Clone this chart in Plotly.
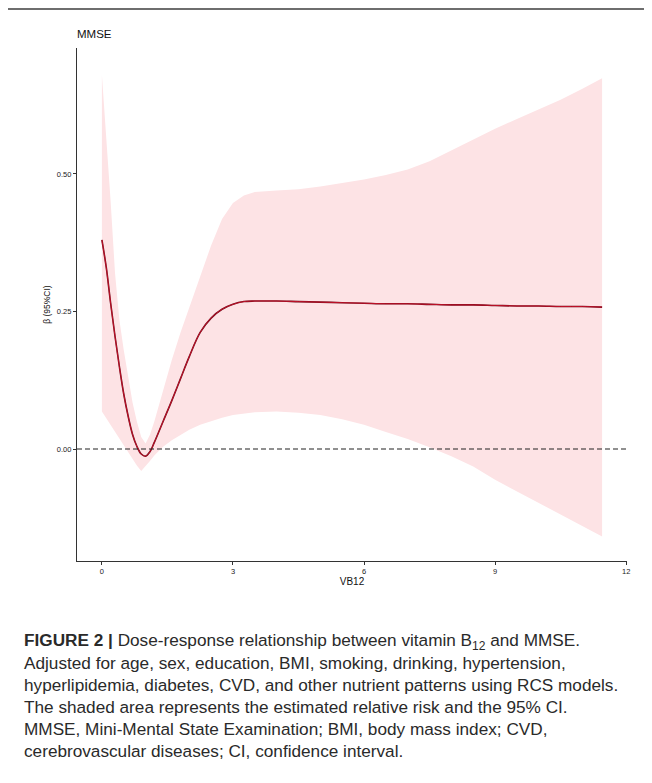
import plotly.graph_objects as go

# ---- data ----
vb12 = [0, 0.1, 0.2, 0.3, 0.4, 0.5, 0.6, 0.7, 0.8, 0.9, 1.0, 1.1, 1.2, 1.4, 1.6, 1.8,
        2.0, 2.25, 2.5, 2.75, 3.0, 3.25, 3.5, 4.0, 4.5, 5.0, 5.5, 6.0, 6.5, 7.0, 7.5,
        8.0, 8.5, 9.0, 9.5, 10.0, 10.5, 11.0, 11.45]
beta = [0.38, 0.33, 0.265, 0.205, 0.15, 0.10, 0.06, 0.027, 0.005, -0.009, -0.013, -0.005,
        0.012, 0.05, 0.088, 0.128, 0.168, 0.212, 0.238, 0.254, 0.263, 0.268, 0.269, 0.269,
        0.268, 0.267, 0.266, 0.265, 0.264, 0.264, 0.263, 0.262, 0.262, 0.261, 0.260,
        0.260, 0.259, 0.259, 0.258]
upper = [0.68, 0.57, 0.45, 0.32, 0.235, 0.18, 0.13, 0.085, 0.05, 0.022, 0.01, 0.026,
         0.05, 0.108, 0.162, 0.212, 0.258, 0.312, 0.37, 0.418, 0.447, 0.461, 0.467, 0.470,
         0.472, 0.477, 0.483, 0.490, 0.498, 0.508, 0.523, 0.543, 0.562, 0.582, 0.60,
         0.617, 0.635, 0.655, 0.674]
lower = [0.068, 0.056, 0.043, 0.031, 0.019, 0.007, -0.006, -0.018, -0.030, -0.040, -0.032,
         -0.022, -0.012, 0.004, 0.016, 0.026, 0.035, 0.044, 0.051, 0.057, 0.062, 0.065,
         0.067, 0.068, 0.066, 0.062, 0.054, 0.044, 0.031, 0.018, 0.003, -0.013, -0.032,
         -0.056, -0.077, -0.099, -0.12, -0.14, -0.159]

x_ticks = [0, 3, 6, 9, 12]
y_ticks = [0.0, 0.25, 0.50]
y_ticklabels = ["0.00", "0.25", "0.50"]

caption_lines = [
    "<b>FIGURE 2 |</b> Dose-response relationship between vitamin B<sub>12</sub> and MMSE.",
    "Adjusted for age, sex, education, BMI, smoking, drinking, hypertension,",
    "hyperlipidemia, diabetes, CVD, and other nutrient patterns using RCS models.",
    "The shaded area represents the estimated relative risk and the 95% CI.",
    "MMSE, Mini-Mental State Examination; BMI, body mass index; CVD,",
    "cerebrovascular diseases; CI, confidence interval.",
]

# ---- layout geometry (figure pixels; the page body adds an 8px offset) ----
OFF = 8
W, H = 652 - OFF, 783 - OFF
L, R, T, B = 77 - OFF, 25, 48 - OFF, 222
PW, PH = W - L - R, H - T - B


def px(xr):  # reference-pixel x -> paper
    return (xr - OFF - L) / PW


def py(yr):  # reference-pixel y -> paper
    return (H - B - (yr - OFF)) / PH


FONT = "Liberation Sans, Arial, sans-serif"

fig = go.Figure()

fig.add_trace(go.Scatter(
    x=vb12 + vb12[::-1], y=upper + lower[::-1],
    fill="toself", fillcolor="#fde3e5", line=dict(width=0),
    mode="lines", hoverinfo="skip", showlegend=False))

fig.add_trace(go.Scatter(
    x=vb12, y=beta, mode="lines",
    line=dict(color="#6b0a1a", width=1.6, shape="spline"),
    showlegend=False))
fig.add_trace(go.Scatter(
    x=vb12, y=beta, mode="lines",
    line=dict(color="#e3142e", width=0.7, shape="spline"),
    showlegend=False))

# dashed reference line at 0
fig.add_shape(type="line", xref="paper", x0=0, x1=1, yref="y", y0=0, y1=0,
              line=dict(color="#222222", width=1.1, dash="5px,3px"))

axis_font = dict(family=FONT, size=7.5, color="#222222")
fig.update_xaxes(range=[-0.57, 12.02], tickvals=x_ticks, ticktext=[str(v) for v in x_ticks],
                 showline=True, linecolor="#333333", linewidth=1.2, showgrid=False,
                 zeroline=False, ticks="outside", ticklen=3, tickcolor="#333333",
                 tickfont=axis_font,
                 title=dict(text="VB12", standoff=1, font=dict(family=FONT, size=10, color="#111")))
fig.update_yaxes(range=[-0.2036, 0.729], tickvals=y_ticks, ticktext=y_ticklabels,
                 showline=True, linecolor="#333333", linewidth=1.2, showgrid=False,
                 zeroline=False, ticks="outside", ticklen=3, tickcolor="#333333",
                 tickfont=axis_font,
                 title=dict(text="β (95%CI)", standoff=4, font=dict(family=FONT, size=8.5, color="#111")))

annotations = [
    dict(text="MMSE", xref="paper", yref="paper", x=px(75), y=py(34),
         xanchor="left", yanchor="middle", showarrow=False,
         font=dict(family=FONT, size=11.5, color="#111")),
]
line_y = [641, 663, 685, 707, 729, 751]
for txt, yy in zip(caption_lines, line_y):
    annotations.append(dict(
        text=txt, xref="paper", yref="paper", x=px(22), y=py(yy),
        xanchor="left", yanchor="middle", showarrow=False, align="left",
        font=dict(family=FONT, size=17.2, color="#2a2a2a")))

# outer frame of the figure panel
fig.add_shape(type="rect", xref="paper", yref="paper",
              x0=px(6), x1=px(700), y0=py(9), y1=py(840),
              line=dict(color="#6e6e6e", width=2), layer="below")

fig.update_layout(
    width=W, height=H, margin=dict(l=L, r=R, t=T, b=B, autoexpand=False),
    paper_bgcolor="white", plot_bgcolor="white",
    annotations=annotations, showlegend=False,
)

fig.write_html("out.html")
